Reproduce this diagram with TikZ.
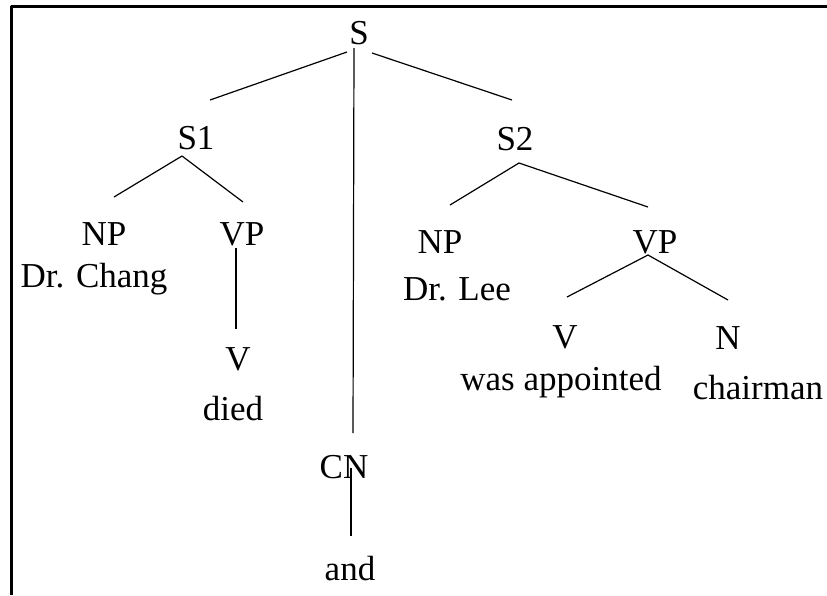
\documentclass[tikz,border=0pt]{standalone}
\usepackage{fontspec}
\setmainfont{Liberation Serif}
\begin{document}
\begin{tikzpicture}[x=1pt, y=-1pt, font=\fontsize{35}{40}\selectfont, line join=round,
	lbl/.style={anchor=base, inner sep=0pt}, edge/.style={line width=1.2pt}]
	\useasboundingbox (0,0) rectangle (827,595);
	\draw[line width=3pt] (11,595)--(11,6)--(827,6);
	\node[lbl] (S) at (359,44) {S};
	\node[lbl] (S1) at (196,149) {S1};
	\node[lbl] (S2) at (515,150) {S2};
	\node[lbl] (NP1) at (104,245) {NP};
	\node[lbl] (chang) at (94,287) {Dr. Chang};
	\node[lbl] (VP1) at (242,245) {VP};
	\node[lbl] (V1) at (238,370) {V};
	\node[lbl] (died) at (233,420) {died};
	\node[lbl] (CN) at (344,478) {CN};
	\node[lbl] (and) at (350,580) {and};
	\node[lbl] (NP2) at (440,253) {NP};
	\node[lbl] (lee) at (457,300) {Dr. Lee};
	\node[lbl] (VP2) at (655,253) {VP};
	\node[lbl] (V2) at (565,348) {V};
	\node[lbl] (appt) at (561,390) {was appointed};
	\node[lbl] (N) at (728,349) {N};
	\node[lbl] (chair) at (758,399) {chairman};
	\draw[edge] ([shift={(-12,8)}]S.base)--([shift={(14,-49)}]S1.base);
	\draw[edge] ([shift={(13,9)}]S.base)--([shift={(-3,-50)}]S2.base);
	\draw[edge] ([shift={(-5,4)}]S.base)--([shift={(9,-45)}]CN.base);
	\draw[edge] ([shift={(7,-10)}]CN.base)--([shift={(1,-44)}]and.base);
	\draw[edge] ([shift={(10,-48)}]NP1.base)--([shift={(-14,7)}]S1.base)--([shift={(1,-43)}]VP1.base);
	\draw[edge] ([shift={(-6,3)}]VP1.base)--([shift={(-2,-41)}]V1.base);
	\draw[edge] ([shift={(10,-48)}]NP2.base)--([shift={(4,13)}]S2.base)--([shift={(-7,-46)}]VP2.base);
	\draw[edge] ([shift={(2,-51)}]V2.base)--([shift={(-7,2)}]VP2.base)--([shift={(0,-49)}]N.base);
\end{tikzpicture}
\end{document}
